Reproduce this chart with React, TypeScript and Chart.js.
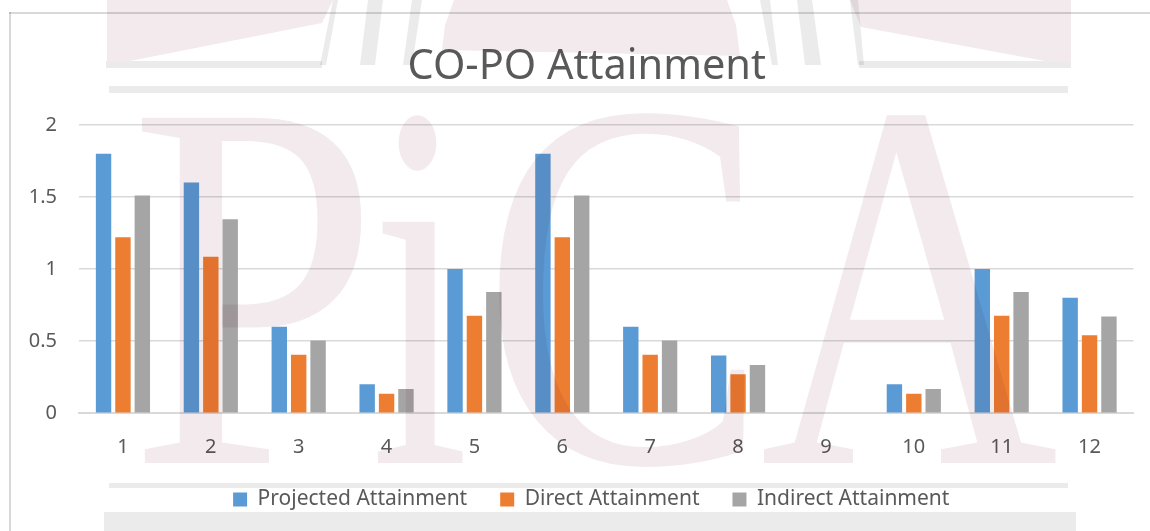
import React, { useEffect, useRef } from "react";
import { Chart, registerables } from "chart.js";

Chart.register(...registerables);

const categories = ["1", "2", "3", "4", "5", "6", "7", "8", "9", "10", "11", "12"];
const projected = [1.8, 1.6, 0.6, 0.2, 1, 1.8, 0.6, 0.4, 0, 0.2, 1, 0.8];
const direct = [1.22, 1.085, 0.405, 0.135, 0.675, 1.22, 0.405, 0.27, 0, 0.135, 0.675, 0.54];
const indirect = [1.51, 1.345, 0.505, 0.167, 0.84, 1.51, 0.505, 0.335, 0, 0.167, 0.84, 0.67];

const FONT = '"Noto Sans", "Open Sans", sans-serif';
const PINK = "#f3eaed";
const GREY = "#ebebeb";

function glyph(ctx: CanvasRenderingContext2D, ch: string, x0: number, x1: number, y0: number, y1: number) {
  ctx.save();
  ctx.font = '500px "Liberation Serif", serif';
  ctx.textAlign = "left";
  ctx.textBaseline = "alphabetic";
  const m = ctx.measureText(ch);
  const w = m.actualBoundingBoxLeft + m.actualBoundingBoxRight;
  const h = m.actualBoundingBoxAscent + m.actualBoundingBoxDescent;
  const sx = (x1 - x0) / w;
  const sy = (y1 - y0) / h;
  ctx.translate(x0 + m.actualBoundingBoxLeft * sx, y0 + m.actualBoundingBoxAscent * sy);
  ctx.scale(sx, sy);
  ctx.fillStyle = PINK;
  ctx.fillText(ch, 0, 0);
  ctx.restore();
}

function poly(ctx: CanvasRenderingContext2D, pts: number[][], color: string) {
  ctx.fillStyle = color;
  ctx.beginPath();
  pts.forEach((p, i) => (i ? ctx.lineTo(p[0], p[1]) : ctx.moveTo(p[0], p[1])));
  ctx.closePath();
  ctx.fill();
}

const watermark = {
  id: "watermark",
  afterLayout(chart: any) {
    chart.legend.left += 4.5;
    chart.legend.right += 4.5;
  },
  afterDraw(chart: any) {
    const ctx: CanvasRenderingContext2D = chart.ctx;
    ctx.save();
    ctx.globalCompositeOperation = "multiply";
    // frame of the pasted chart
    ctx.fillStyle = "#d9d9d9";
    ctx.fillRect(9, 12, 1141, 2);
    ctx.fillRect(9, 12, 2, 519);
    // letters
    glyph(ctx, "P", 136, 368, 117, 463);
    glyph(ctx, "i", 376, 465, 110, 463);
    glyph(ctx, "C", 495, 750, 108, 470);
    glyph(ctx, "A", 760, 1057, 109, 463);
    // logo at top
    poly(ctx, [[107, 0], [333, 0], [322, 23], [130, 61], [107, 61]], PINK);
    poly(ctx, [[454, 0], [727, 0], [736, 25], [740, 56], [442, 50], [445, 25]], PINK);
    poly(ctx, [[850, 0], [1071, 0], [1071, 61], [1045, 61], [861, 27]], PINK);
    // grey arcs and rules
    poly(ctx, [[368, 0], [383, 0], [375, 65], [360, 65]], GREY);
    poly(ctx, [[412, 0], [422, 0], [412, 65], [403, 65]], GREY);
    poly(ctx, [[333, 0], [338, 0], [326, 65], [320, 65]], GREY);
    poly(ctx, [[760, 0], [770, 0], [778, 65], [772, 65]], GREY);
    poly(ctx, [[797, 0], [812, 0], [821, 65], [805, 65]], GREY);
    poly(ctx, [[850, 0], [858, 0], [864, 65], [858, 65]], GREY);
    ctx.fillStyle = GREY;
    ctx.fillRect(106, 61, 216, 7);
    ctx.fillRect(859, 61, 212, 7);
    ctx.fillRect(109, 86, 959, 7);
    ctx.fillRect(109, 483, 959, 5);
    ctx.fillRect(104, 512, 972, 19);
    ctx.restore();
  },
};

export default function App() {
  const ref = useRef<HTMLCanvasElement>(null);
  useEffect(() => {
    if (!ref.current) return;
    const barOpts = { categoryPercentage: 0.662, barPercentage: 0.794 };
    const chart = new Chart(ref.current, {
      type: "bar",
      data: {
        labels: categories,
        datasets: [
          { label: "Projected Attainment", data: projected, backgroundColor: "#5b9bd5", ...barOpts },
          { label: "Direct Attainment", data: direct, backgroundColor: "#ed7d31", ...barOpts },
          { label: "Indirect Attainment", data: indirect, backgroundColor: "#a5a5a5", ...barOpts },
        ],
      },
      options: {
        responsive: false,
        animation: false,
        layout: { padding: { left: 40, right: 16.5, top: 0, bottom: 11 } },
        plugins: {
          tooltip: { enabled: false },
          title: {
            display: true,
            text: "CO-PO Attainment",
            color: "#595959",
            font: { family: FONT, size: 41.5, weight: "normal" },
            padding: { top: 42.5, bottom: 32.5 },
          },
          legend: {
            position: "bottom",
            labels: {
              color: "#595959",
              font: { family: FONT, size: 21 },
              boxWidth: 14,
              boxHeight: 14,
              padding: 33,
            },
          },
        },
        scales: {
          x: {
            afterFit: (s: any) => { s.height = 42.8; s._computeLabelArea = () => undefined; },
            grid: { display: false, drawTicks: false },
            border: { color: "#d9d9d9", width: 2 },
            ticks: { color: "#595959", font: { family: FONT, size: 20 }, padding: 22, maxRotation: 0 },
          },
          y: {
            min: 0,
            max: 2,
            afterFit: (s: any) => { s.width = 39; s._computeLabelArea = () => undefined; },
            grid: { color: "#d9d9d9", lineWidth: 1.5, drawTicks: false },
            border: { display: false },
            ticks: {
              color: "#595959",
              font: { family: FONT, size: 20 },
              padding: 22,
              stepSize: 0.5,
              callback: (v: any) => String(v),
            },
          },
        },
      },
      plugins: [watermark],
    } as any);
    return () => chart.destroy();
  }, []);
  return (
    <div style={{ position: "absolute", left: 0, top: 0, width: 1150, height: 531, background: "#fff", overflow: "hidden" }}>
      <canvas ref={ref} width={1150} height={531} style={{ display: "block" }} />
    </div>
  );
}
